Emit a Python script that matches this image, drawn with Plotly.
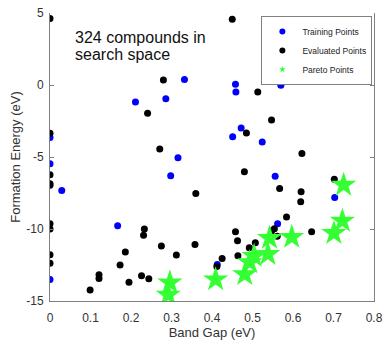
import plotly.graph_objects as go

# Training points (blue)
train_x = [0, 0, 0.029, 0, 0.167, 0.211, 0.286, 0.332, 0.316, 0.298, 0.458, 0.459,
           0.472, 0.451, 0.570, 0.524, 0.556, 0.703, 0.562, 0.413]
train_y = [-3.65, -5.47, -7.32, -13.5, -9.77, -1.18, -0.95, 0.39, -5.06, -6.31, 0.05, -0.49,
           -2.98, -3.6, -0.02, -3.95, -6.33, -7.81, -9.63, -12.46]

# Evaluated points (black)
eval_x = [0, 0, 0, 0, 0, 0, 0, 0, 0,
          0.099, 0.121, 0.121, 0.173, 0.186, 0.195, 0.226, 0.244, 0.231, 0.233,
          0.241, 0.271, 0.280, 0.450, 0.485, 0.513, 0.547, 0.622,
          0.275, 0.312, 0.358, 0.360, 0.480,
          0.412, 0.425, 0.458, 0.463, 0.464, 0.492, 0.507,
          0.547, 0.554, 0.561, 0.584, 0.646, 0.567, 0.620, 0.619, 0.702]
eval_y = [4.62, -3.35, -6.24, -6.86, -6.97, -9.63, -10.0, -11.78, -12.38,
          -14.23, -13.17, -13.44, -12.5, -11.6, -13.7, -13.24, -13.45, -10.44, -10.0,
          -1.96, -4.44, 0.35, 4.57, -3.33, -0.49, -2.43, -4.76,
          -11.18, -11.8, -11.07, -7.53, -6.03,
          -12.6, -12.05, -10.19, -10.81, -11.85, -11.3, -10.95,
          -10.14, -9.98, -10.51, -9.17, -10.19, -7.19, -7.42, -8.11, -6.54]

# Pareto points (green stars)
pareto_x = [0.292, 0.296, 0.409, 0.481, 0.493, 0.504, 0.538, 0.542, 0.597, 0.701, 0.722, 0.725]
pareto_y = [-14.57, -13.72, -13.51, -13.15, -12.32, -11.88, -11.75, -10.63, -10.56, -10.29, -9.44, -6.94]

x_ticks = [0, 0.1, 0.2, 0.3, 0.4, 0.5, 0.6, 0.7, 0.8]
x_tick_labels = ["0", "0.1", "0.2", "0.3", "0.4", "0.5", "0.6", "0.7", "0.8"]
y_ticks = [-15, -10, -5, 0, 5]
y_tick_labels = ["-15", "-10", "-5", "0", "5"]

X_RANGE = [0, 0.8]
Y_RANGE = [-15, 5]

BLUE = "#0000ff"
BLACK = "#000000"
GREEN = "#33ff33"
FONT = "Liberation Sans, Arial"
AXIS_GRAY = "#808080"
TEXT_GRAY = "#333333"

fig = go.Figure()

fig.add_trace(go.Scatter(x=train_x, y=train_y, mode="markers", showlegend=False,
                         marker=dict(color=BLUE, size=7)))
fig.add_trace(go.Scatter(x=eval_x, y=eval_y, mode="markers", showlegend=False,
                         marker=dict(color=BLACK, size=7)))
fig.add_trace(go.Scatter(x=pareto_x, y=pareto_y, mode="markers", showlegend=False,
                         marker=dict(color=GREEN, size=19, symbol="star",
                                     line=dict(width=0))))

# legend entries
fig.add_trace(go.Scatter(x=[None], y=[None], mode="markers", name="Training Points",
                         marker=dict(color=BLUE, size=6)))
fig.add_trace(go.Scatter(x=[None], y=[None], mode="markers", name="Evaluated Points",
                         marker=dict(color=BLACK, size=6)))
fig.add_trace(go.Scatter(x=[None], y=[None], mode="markers", name="Pareto Points",
                         marker=dict(color=GREEN, size=5, symbol="star")))

fig.update_layout(
    xaxis=dict(
        range=X_RANGE, tickvals=x_ticks, ticktext=x_tick_labels,
        showline=True, linecolor=AXIS_GRAY, linewidth=1, mirror=False,
        ticks="outside", ticklen=6, tickcolor="rgba(0,0,0,0)",
        showgrid=False, zeroline=False, automargin=False, ticklabeloverflow="allow",
        tickfont=dict(family=FONT, size=12, color=TEXT_GRAY),
        title=dict(text="Band Gap (eV)", standoff=2,
                   font=dict(family=FONT, size=13, color=TEXT_GRAY)),
    ),
    xaxis2=dict(
        range=X_RANGE, tickvals=x_ticks, overlaying="x", matches="x", anchor="y", side="bottom",
        showline=True, linecolor=AXIS_GRAY, linewidth=1, mirror="ticks",
        ticks="inside", ticklen=4, tickcolor=AXIS_GRAY, showticklabels=False,
        showgrid=False, zeroline=False, automargin=False,
    ),
    yaxis=dict(
        range=Y_RANGE, tickvals=y_ticks, ticktext=y_tick_labels,
        showline=True, linecolor=AXIS_GRAY, linewidth=1, mirror="ticks",
        ticks="inside", ticklen=4, tickcolor=AXIS_GRAY, ticklabelstandoff=3,
        showgrid=False, zeroline=False, automargin=False, ticklabeloverflow="allow",
        tickfont=dict(family=FONT, size=12, color=TEXT_GRAY),
        title=dict(text="Formation Energy (eV)", standoff=2,
                   font=dict(family=FONT, size=13, color=TEXT_GRAY)),
    ),
)

fig.add_annotation(x=0.056, y=3.27, xref="x", yref="y", xanchor="left", yanchor="middle",
                   text="324 compounds in", showarrow=False, align="left",
                   font=dict(family=FONT, size=16, color="#111111"))
fig.add_annotation(x=0.056, y=2.1, xref="x", yref="y", xanchor="left", yanchor="middle",
                   text="search space", showarrow=False, align="left",
                   font=dict(family=FONT, size=16, color="#111111"))

fig.update_layout(
    width=384, height=344,
    margin=dict(l=50, r=9.5, t=13, b=42.5),
    paper_bgcolor="white", plot_bgcolor="white",
    legend=dict(x=0.995, y=0.99, xanchor="right", yanchor="top",
                bordercolor=AXIS_GRAY, borderwidth=1, bgcolor="white",
                font=dict(family=FONT, size=8.5, color="#222222"),
                itemwidth=30, tracegroupgap=0),
)

fig.write_html("out.html", config={"displayModeBar": False},
               post_script="document.body.style.margin='0';document.body.style.overflow='hidden';")
